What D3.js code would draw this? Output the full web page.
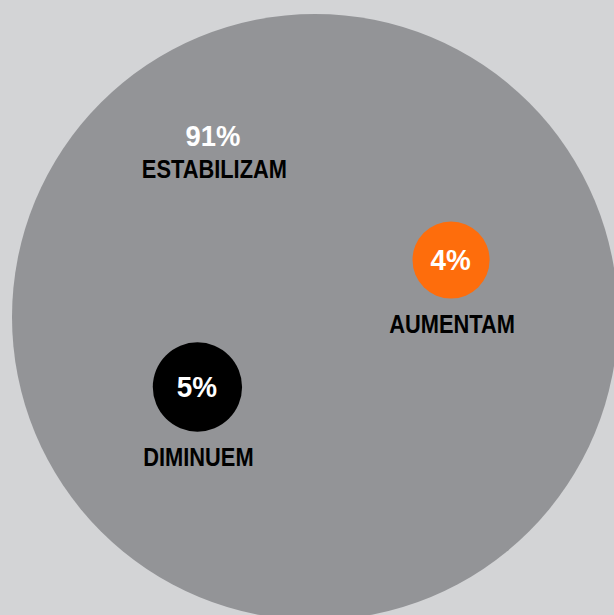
<!DOCTYPE html>
<html>
<head>
<meta charset="utf-8">
<script src="https://cdn.jsdelivr.net/npm/d3@7"></script>
<style>
  html, body { margin: 0; padding: 0; background: #d3d4d6; overflow: hidden; }
  text { font-family: "Liberation Sans", Arial, sans-serif; font-weight: bold; }
</style>
</head>
<body>
<div id="chart"></div>
<script>
// --- Data ---
const CATEGORIES = ["ESTABILIZAM", "DIMINUEM", "AUMENTAM"];
const VALUES = [91, 5, 4];
const COLORS = ["#939497", "#000000", "#fe6d0c"];

// --- Layout (relative to the big circle, -1..1) ---
const LAYOUT = [
  { x: 0, y: 0, lx: -0.337, ly: -0.565 },
  { x: -0.388, y: 0.231 },
  { x: 0.449, y: -0.188 }
];

const width = 614, height = 615;
const cx = 315, cy = 317, R = 303;
const NUM_SQUEEZE = 0.93, LABEL_SQUEEZE = 0.84; // fake condensed font

const svg = d3.select("#chart")
  .append("svg")
  .attr("width", width)
  .attr("height", height);

svg.append("rect")
  .attr("width", width)
  .attr("height", height)
  .attr("fill", "#d3d4d6");

// radius scale
const r = d3.scalePow().exponent(0.66).domain([0, d3.max(VALUES)]).range([0, R]);
const x = d3.scaleLinear().domain([-1, 1]).range([cx - R, cx + R]);
const y = d3.scaleLinear().domain([-1, 1]).range([cy - R, cy + R]);

const data = CATEGORIES.map((c, i) => ({ name: c, value: VALUES[i], color: COLORS[i], pos: LAYOUT[i] }));

// circles
svg.selectAll("circle.bubble")
  .data(data)
  .enter()
  .append("circle")
  .attr("class", "bubble")
  .attr("cx", d => x(d.pos.x))
  .attr("cy", d => y(d.pos.y))
  .attr("r", d => r(d.value))
  .attr("fill", d => d.color);

function label(px, py, txt, size, fill, sx) {
  svg.append("text")
    .attr("transform", `translate(${px},${py}) scale(${sx},1)`)
    .attr("text-anchor", "middle")
    .attr("fill", fill)
    .style("font-size", size + "px")
    .text(txt);
}

// big circle labels
const big = data[0];
label(x(big.pos.lx), y(big.pos.ly), big.value + "%", 29.5, "#ffffff", NUM_SQUEEZE);
label(x(big.pos.lx) + 1.5, y(big.pos.ly) + 32.6, big.name, 26, "#000000", LABEL_SQUEEZE);

// small circle labels
data.slice(1).forEach(d => {
  label(x(d.pos.x) - 0.5, y(d.pos.y) + 10, d.value + "%", 30, "#ffffff", NUM_SQUEEZE);
  label(x(d.pos.x) + 1, y(d.pos.y) + r(d.value) + 34.5, d.name, 26, "#000000", LABEL_SQUEEZE);
});
</script>
</body>
</html>
